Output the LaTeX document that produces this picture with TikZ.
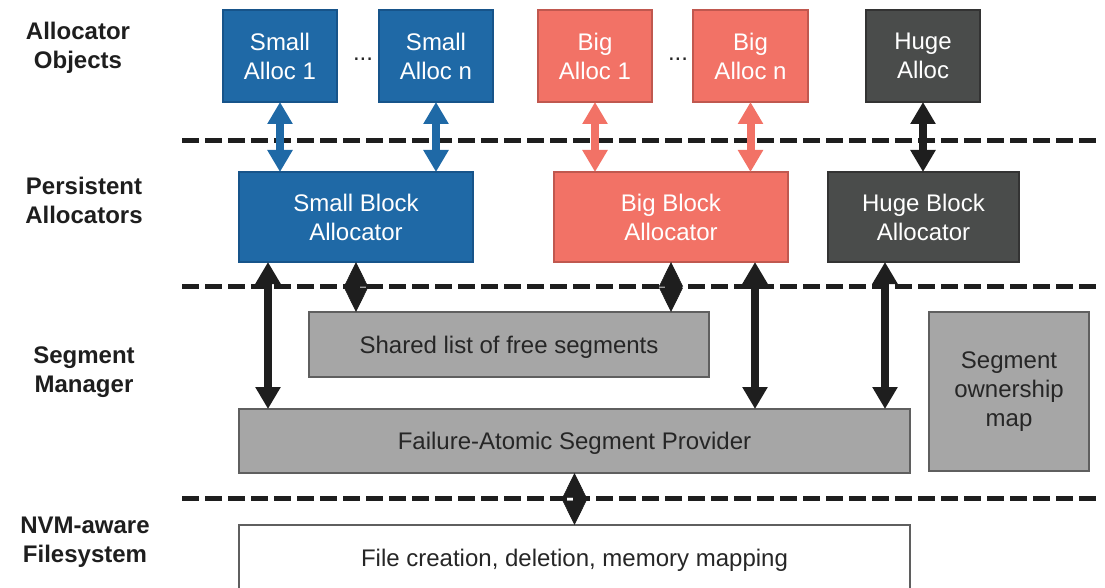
\documentclass[tikz,border=0pt]{standalone}
\usepackage{fontspec}
\setmainfont{Liberation Sans}
\usetikzlibrary{arrows.meta}

\definecolor{smallfill}{HTML}{1F69A6}
\definecolor{smalledge}{HTML}{17548A}
\definecolor{bigfill}{HTML}{F27266}
\definecolor{bigedge}{HTML}{C0584F}
\definecolor{hugefill}{HTML}{4A4C4B}
\definecolor{hugeedge}{HTML}{333333}
\definecolor{segfill}{HTML}{A6A6A6}
\definecolor{segedge}{HTML}{5F5F5F}
\definecolor{ink}{HTML}{1E1E1E}
\definecolor{labelink}{HTML}{262626}

\tikzset{
  box/.style={rectangle, draw, line width=2pt, inner sep=0pt, outer sep=0pt,
    align=center, font=\fontsize{24}{29}\selectfont,
    execute at begin node=\rule{0pt}{22pt}},
  smallbox/.style={box, fill=smallfill, draw=smalledge, text=white},
  bigbox/.style={box, fill=bigfill, draw=bigedge, text=white},
  hugebox/.style={box, fill=hugefill, draw=hugeedge, text=white},
  segbox/.style={box, fill=segfill, draw=segedge, text=labelink},
  filebox/.style={box, fill=white, draw=segedge, text=labelink},
  layerlabel/.style={align=center, text=ink, font=\fontsize{24}{29}\selectfont\bfseries},
  ellipsis/.style={text=labelink, font=\fontsize{24}{29}\selectfont},
  divider/.style={draw=ink, line width=5pt, dash pattern=on 17pt off 6pt},
  fatarrow/.style={line width=8pt, {Triangle[width=24pt,length=22pt]}-{Triangle[width=24pt,length=22pt]}},
  bluearrow/.style={fatarrow, draw=smallfill, fill=smallfill},
  redarrow/.style={fatarrow, draw=bigfill, fill=bigfill},
  blackarrow/.style={fatarrow, draw=ink, fill=ink},
  diamondlink/.style={line width=0.5pt, draw=ink, fill=ink,
    {Triangle[width=24pt,length=24.5pt]}-{Triangle[width=24pt,length=24.5pt]}},
}

\begin{document}
\begin{tikzpicture}[x=1pt, y=-1pt]
\useasboundingbox (0,0) rectangle (1105,588);
\clip (0,0) rectangle (1105,588);

% layer dividers
\coordinate (d1l) at (182,141); \coordinate (d1r) at (1100,141);
\coordinate (d2l) at (182,286); \coordinate (d2r) at (1100,286);
\coordinate (d3l) at (182,498); \coordinate (d3r) at (1100,498);
\draw[divider] (d1l) -- (d1r);
\draw[divider] (d2l) -- (d2r);
\draw[divider] (d3l) -- (d3r);

% layer names
\node[layerlabel] (lobj) at (78,47.5) {Allocator\\Objects};
\node[layerlabel] (lpers) at (84,200) {Persistent\\Allocators};
\node[layerlabel] (lseg) at (84,372.5) {Segment\\Manager};
\node[layerlabel] (lfs) at (85,542) {NVM-aware\\Filesystem};

% allocator objects
\node[smallbox, minimum width=114pt, minimum height=92pt] (sa1) at (280,56) {Small\\Alloc 1};
\node[smallbox, minimum width=114pt, minimum height=92pt] (san) at (436,56) {Small\\Alloc n};
\node[bigbox, minimum width=114pt, minimum height=92pt] (ba1) at (595,56) {Big\\Alloc 1};
\node[bigbox, minimum width=115pt, minimum height=92pt] (ban) at (750.5,56) {Big\\Alloc n};
\node[hugebox, minimum width=114pt, minimum height=92pt] (ha) at (923,56) {Huge\\Alloc};
\node[ellipsis] (dots1) at (363,59) {...};
\node[ellipsis] (dots2) at (678,59) {...};

% persistent allocators
\node[smallbox, minimum width=234pt, minimum height=90pt] (sba) at (356,217) {Small Block\\Allocator};
\node[bigbox, minimum width=234pt, minimum height=90pt] (bba) at (671,217) {Big Block\\Allocator};
\node[hugebox, minimum width=191pt, minimum height=90pt] (hba) at (923.5,217) {Huge Block\\Allocator};

% segment manager
\node[segbox, minimum width=400pt, minimum height=65pt] (sl) at (509,344.5) {Shared list of free segments};
\node[segbox, minimum width=671pt, minimum height=64pt] (fas) at (574.5,441) {Failure-Atomic Segment Provider};
\node[segbox, minimum width=160pt, minimum height=159pt] (som) at (1009,391.5) {Segment\\ownership\\map};

% filesystem
\node[filebox, minimum width=671pt, minimum height=80pt] (fc) at (574.5,565) {};
\node[text=labelink, font=\fontsize{24}{29}\selectfont] (fct) at (574.5,560) {File creation, deletion, memory mapping};

% object <-> allocator links
\draw[bluearrow] (sa1.south) -- (sa1.south |- sba.north);
\draw[bluearrow] (san.south) -- (san.south |- sba.north);
\draw[redarrow] (ba1.south) -- (ba1.south |- bba.north);
\draw[redarrow] (ban.south) -- (ban.south |- bba.north);
\draw[blackarrow] (ha.south) -- (ha.south |- hba.north);

% allocator <-> segment manager links
\draw[blackarrow] ([xshift=29pt]sba.south west) -- ([xshift=29pt]sba.south west |- fas.north);
\draw[blackarrow] ([xshift=-33pt]bba.south east) -- ([xshift=-33pt]bba.south east |- fas.north);
\draw[blackarrow] ([xshift=57pt]hba.south west) -- ([xshift=57pt]hba.south west |- fas.north);
\draw[diamondlink] (sba.south) -- (sba.south |- sl.north);
\draw[diamondlink] (bba.south) -- (bba.south |- sl.north);

% segment provider <-> filesystem
\draw[diamondlink] (fas.south) -- (fc.north);
\end{tikzpicture}
\end{document}
